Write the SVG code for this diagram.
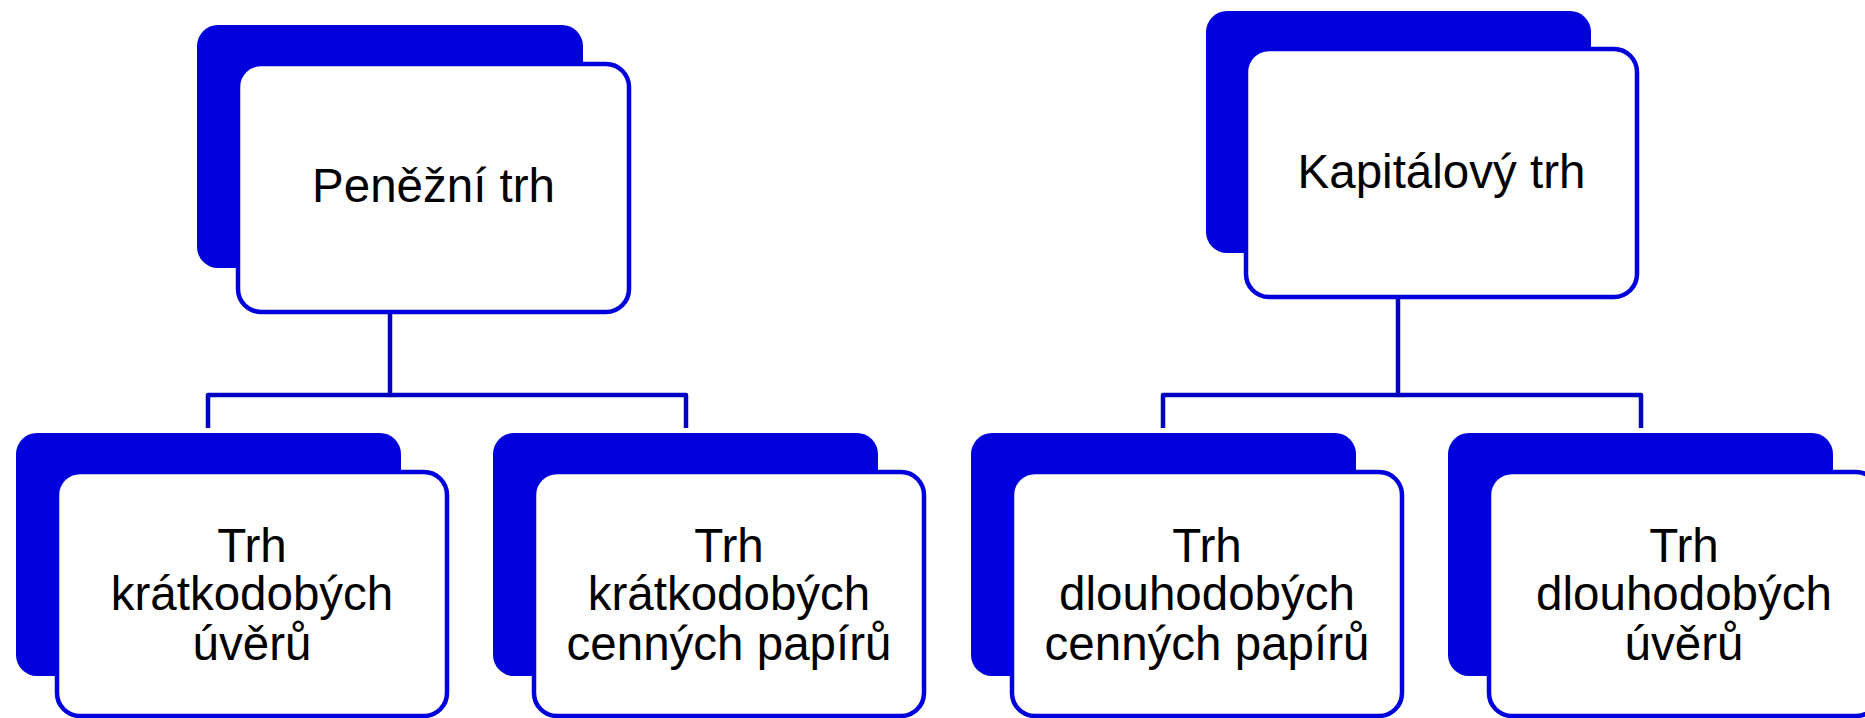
<svg xmlns="http://www.w3.org/2000/svg" width="1865" height="718" viewBox="0 0 1865 718">
  <style>
    .back { fill: #0000DC; }
    .front { fill: #FFFFFF; stroke: #0000DC; stroke-width: 4.5; }
    .label { font-family: "Liberation Sans", Arial, sans-serif; font-size: 47.5px; fill: #000000; text-anchor: middle; }
    .link { fill: none; stroke: #0000C4; stroke-width: 4.5; stroke-linejoin: round; }
  </style>

  <!-- tree connectors -->
  <g id="connectors">
    <path class="link" d="M390,314 V395"/>
    <path class="link" d="M208,428 V395 H686 V428"/>
    <path class="link" d="M1398,299 V395"/>
    <path class="link" d="M1163,428 V395 H1641 V428"/>
  </g>

  <!-- top level -->
  <g id="penezni-trh">
    <rect class="back" x="197" y="25" width="386" height="243" rx="21"/>
    <rect class="front" x="238" y="64" width="391" height="248" rx="23"/>
    <text class="label" x="433.5" y="202">Peněžní trh</text>
  </g>

  <g id="kapitalovy-trh">
    <rect class="back" x="1206" y="11" width="385" height="242" rx="21"/>
    <rect class="front" x="1246" y="49" width="391" height="248" rx="23"/>
    <text class="label" x="1441.5" y="188">Kapitálový trh</text>
  </g>

  <!-- second level -->
  <g id="kratkodobe-uvery">
    <rect class="back" x="16" y="433" width="385" height="243" rx="21"/>
    <rect class="front" x="57" y="472" width="390" height="244" rx="23"/>
    <text class="label" x="252" y="562">Trh</text>
    <text class="label" x="252" y="610">krátkodobých</text>
    <text class="label" x="252" y="660">úvěrů</text>
  </g>

  <g id="kratkodobe-cenne-papiry">
    <rect class="back" x="493" y="433" width="385" height="243" rx="21"/>
    <rect class="front" x="534" y="472" width="390" height="244" rx="23"/>
    <text class="label" x="729" y="562">Trh</text>
    <text class="label" x="729" y="610">krátkodobých</text>
    <text class="label" x="729" y="660">cenných papírů</text>
  </g>

  <g id="dlouhodobe-cenne-papiry">
    <rect class="back" x="971" y="433" width="385" height="243" rx="21"/>
    <rect class="front" x="1012" y="472" width="390" height="244" rx="23"/>
    <text class="label" x="1207" y="562">Trh</text>
    <text class="label" x="1207" y="610">dlouhodobých</text>
    <text class="label" x="1207" y="660">cenných papírů</text>
  </g>

  <g id="dlouhodobe-uvery">
    <rect class="back" x="1448" y="433" width="385" height="243" rx="21"/>
    <rect class="front" x="1489" y="472" width="390" height="244" rx="23"/>
    <text class="label" x="1684" y="562">Trh</text>
    <text class="label" x="1684" y="610">dlouhodobých</text>
    <text class="label" x="1684" y="660">úvěrů</text>
  </g>
</svg>
